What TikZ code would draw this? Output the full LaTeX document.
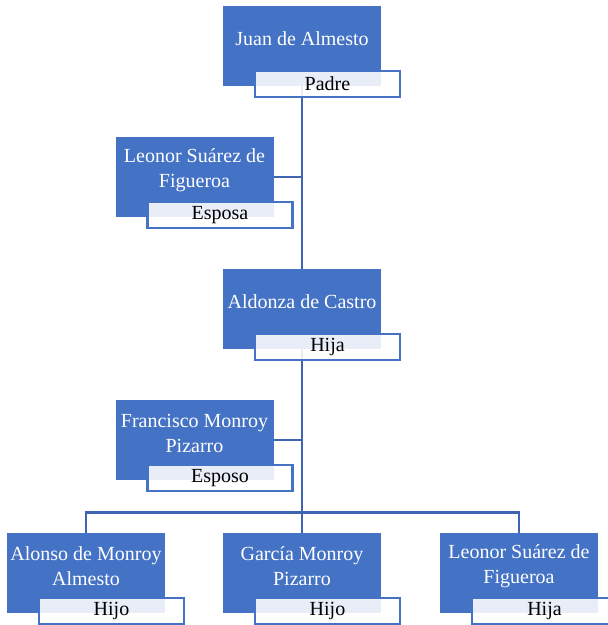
\documentclass[tikz,border=0pt]{standalone}
\usepackage{fontspec}
\setmainfont{Liberation Serif}
\usetikzlibrary{calc,backgrounds}
\definecolor{boxblue}{HTML}{4472C4}
\definecolor{lineblue}{HTML}{3F65B2}
\tikzset{
% Blue boxes for the people, white tags for their role
person node/.style={fill=boxblue,minimum width=158pt,minimum height=80pt,inner sep=0pt},
name text/.style={text=white,align=center,font=\fontsize{20}{25}\selectfont,yshift=7pt},
role node/.style={draw=boxblue,line width=2.4pt,fill=white,fill opacity=0.88,text opacity=1,
  minimum width=145pt,minimum height=26pt,inner sep=0pt,anchor=north west,font=\fontsize{20}{24}\selectfont},
link/.style={draw=lineblue,line width=2.8pt}
}

\begin{document}
\begin{tikzpicture}[x=1pt,y=-1pt]
\useasboundingbox (0,0) rectangle (608,625);
% The people
\node(j)[person node,label={[name text]center:{Juan de Almesto}}] at (302,46){};
\node(l)[person node,label={[name text]center:{Leonor Suárez de\\Figueroa}}] at (194.5,177){};
\node(a)[person node,label={[name text]center:{Aldonza de Castro}}] at (302,309){};
\node(f)[person node,label={[name text]center:{Francisco Monroy\\Pizarro}}] at (194.5,440){};
\node(c1)[person node,label={[name text]center:{Alonso de Monroy\\Almesto}}] at (86,573){};
\node(c2)[person node,label={[name text]center:{García Monroy\\Pizarro}}] at (302,573){};
\node(c3)[person node,label={[name text]center:{Leonor Suárez de\\Figueroa}}] at (519,573){};
% Their roles
\node(jr)[role node] at ($(j.north west)+(31,64)$){Padre};
\node(lr)[role node] at ($(l.north west)+(31,64)$){Esposa};
\node(ar)[role node] at ($(a.north west)+(31,64)$){Hija};
\node(fr)[role node] at ($(f.north west)+(31,64)$){Esposo};
\node(c1r)[role node] at ($(c1.north west)+(31,64)$){Hijo};
\node(c2r)[role node] at ($(c2.north west)+(31,64)$){Hijo};
\node(c3r)[role node] at ($(c3.north west)+(31,64)$){Hija};
% The links
\begin{scope}[on background layer]
\draw[link] (j.south) -- (a.north);
\draw[link] (l.east) -- (l.east -| j.south);
\draw[link] (a.south) -- (c2.north);
\draw[link] (f.east) -- (f.east -| a.south);
\draw[link] (c1.north) |- ($(c2.north)+(0,-20)$) -| (c3.north);
\end{scope}
\end{tikzpicture}
\end{document}
